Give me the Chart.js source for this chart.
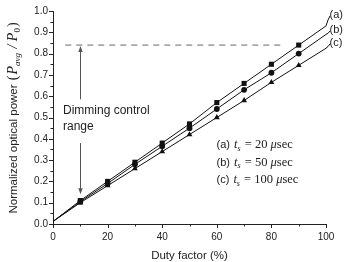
<!DOCTYPE html>
<html>
<head>
<meta charset="utf-8">
<script src="https://cdn.jsdelivr.net/npm/chart.js@4/dist/chart.umd.min.js"></script>
<style>
  html, body { margin: 0; padding: 0; background: #fff; }
  #wrap { width: 345px; height: 262px; }
</style>
</head>
<body>
<div id="wrap"><canvas id="chart" width="345" height="262"></canvas></div>
<script>
// Duty factor (%) positions
const duty = [0, 10, 20, 30, 40, 50, 60, 70, 80, 90, 100];

// Normalized optical power for each switching time
const seriesA = [0.012, 0.11, 0.20, 0.29, 0.38, 0.47, 0.57, 0.66, 0.75, 0.84, 0.93];
const seriesB = [0.012, 0.105, 0.19, 0.28, 0.365, 0.45, 0.54, 0.63, 0.71, 0.80, 0.89];
const seriesC = [0.012, 0.10, 0.18, 0.26, 0.34, 0.42, 0.50, 0.58, 0.665, 0.745, 0.825];

// End labels and legend lines
const seriesNames = ['(a)', '(b)', '(c)'];
const switchTimes = ['20', '50', '100'];

// Dashed reference level and the dimming range arrow position
const dimLevel = 0.84;
const dashedX = [4.5, 85];
const arrowX = 10;

const sansFont = '"Liberation Sans", Arial, sans-serif';
const serifFont = '"Liberation Serif", "Times New Roman", serif';
const textColor = '#222';

// points everywhere except at 0 and 100
function markerRadius(r) {
  return ctx => (ctx.dataIndex === 0 || ctx.dataIndex === duty.length - 1) ? 0 : r;
}

function makeSeries(values, style, r) {
  return {
    data: duty.map((d, i) => ({ x: d, y: values[i] })),
    borderColor: '#111',
    backgroundColor: '#111',
    borderWidth: 1,
    pointStyle: style,
    pointRadius: markerRadius(r),
    pointBorderWidth: 0,
    tension: 0,
    clip: false
  };
}

function drawPieces(ctx, pieces, x, y) {
  let cx = x;
  pieces.forEach(p => {
    ctx.font = p.font;
    ctx.fillText(p.t, cx, y + (p.dy || 0));
    cx += ctx.measureText(p.t).width + (p.gap || 0);
  });
}

function piecesWidth(ctx, pieces) {
  let w = 0;
  pieces.forEach(p => { ctx.font = p.font; w += ctx.measureText(p.t).width + (p.gap || 0); });
  return w;
}

function arrow(ctx, x, y1, y2) {
  // line from y1 to y2, head at y2
  const dir = y2 > y1 ? 1 : -1;
  ctx.beginPath();
  ctx.moveTo(x, y1);
  ctx.lineTo(x, y2 - dir * 5);
  ctx.stroke();
  ctx.beginPath();
  ctx.moveTo(x, y2);
  ctx.lineTo(x - 2.2, y2 - dir * 6);
  ctx.lineTo(x + 2.2, y2 - dir * 6);
  ctx.closePath();
  ctx.fill();
}

const extras = {
  id: 'extras',
  afterDraw(chart) {
    const { ctx } = chart;
    const xs = chart.scales.x, ys = chart.scales.y;
    ctx.save();

    // tick marks, major and minor, outside
    ctx.strokeStyle = '#222';
    ctx.lineWidth = 1;
    for (let v = 0; v <= 100; v += 10) {
      const px = Math.round(xs.getPixelForValue(v)) + 0.5;
      const len = v % 20 === 0 ? 4 : 2.5;
      ctx.beginPath();
      ctx.moveTo(px, ys.bottom);
      ctx.lineTo(px, ys.bottom + len);
      ctx.stroke();
    }
    for (let i = 0; i <= 20; i++) {
      const py = Math.round(ys.getPixelForValue(i * 0.05)) + 0.5;
      const len = i % 2 === 0 ? 4 : 2.5;
      ctx.beginPath();
      ctx.moveTo(xs.left, py);
      ctx.lineTo(xs.left - len, py);
      ctx.stroke();
    }

    // dimming range arrows
    ctx.strokeStyle = '#555';
    ctx.fillStyle = '#555';
    const ax = Math.round(xs.getPixelForValue(arrowX)) + 0.5;
    arrow(ctx, ax, ys.getPixelForValue(0.585), ys.getPixelForValue(dimLevel) + 1);
    arrow(ctx, ax, ys.getPixelForValue(0.38), ys.getPixelForValue(0.14));

    ctx.fillStyle = textColor;
    ctx.textBaseline = 'middle';
    ctx.textAlign = 'left';
    ctx.font = '12px ' + sansFont;
    ctx.fillText('Dimming control', 63, 111);
    ctx.fillText('range', 63, 127);

    // series end labels with short leaders
    const ends = [seriesA, seriesB, seriesC];
    const labelY = [15, 30, 43];
    ctx.font = '11px ' + sansFont;
    ctx.strokeStyle = '#111';
    ends.forEach((vals, k) => {
      const ex = xs.getPixelForValue(100);
      const ey = ys.getPixelForValue(vals[vals.length - 1]);
      ctx.beginPath();
      ctx.moveTo(ex, ey);
      ctx.quadraticCurveTo(ex + 2, labelY[k] + 4, ex + 4, labelY[k] + 1);
      ctx.stroke();
      ctx.fillText(seriesNames[k], ex + 3.5, labelY[k]);
    });

    // legend text
    ctx.textBaseline = 'alphabetic';
    const legY = [148, 165.5, 183];
    seriesNames.forEach((nm, k) => {
      drawPieces(ctx, [
        { t: nm + ' ', font: '11px ' + sansFont, gap: 1 },
        { t: 't', font: 'italic 12.5px ' + serifFont },
        { t: 's', font: 'italic 8px ' + serifFont, dy: 2.5, gap: 1 },
        { t: ' = ' , font: '12.5px ' + serifFont },
        { t: switchTimes[k] + ' ', font: '12.5px ' + serifFont },
        { t: '\u03bc', font: 'italic 12.5px ' + serifFont },
        { t: 'sec', font: '12.5px ' + serifFont }
      ], 216.5, legY[k]);
    });

    // y axis title, rotated
    const yTitle = [
      { t: 'Normalized optical power ', font: '11.5px ' + sansFont, gap: 1 },
      { t: '(', font: '14px ' + serifFont, gap: 1 },
      { t: 'P', font: 'italic 14px ' + serifFont },
      { t: 'avg', font: 'italic 9px ' + serifFont, dy: 3, gap: 1 },
      { t: ' / ', font: 'italic 14px ' + serifFont },
      { t: 'P', font: 'italic 14px ' + serifFont },
      { t: '0', font: '9px ' + serifFont, dy: 3, gap: 1 },
      { t: ')', font: '14px ' + serifFont }
    ];
    const tw = piecesWidth(ctx, yTitle);
    ctx.translate(17, 118);
    ctx.rotate(-Math.PI / 2);
    drawPieces(ctx, yTitle, -tw / 2, 0);

    ctx.restore();
  }
};

new Chart(document.getElementById('chart'), {
  type: 'line',
  data: {
    datasets: [
      makeSeries(seriesA, 'rect', 3.6),
      makeSeries(seriesB, 'circle', 2.9),
      makeSeries(seriesC, 'triangle', 3.4),
      {
        data: dashedX.map(d => ({ x: d, y: dimLevel })),
        borderColor: '#666',
        borderWidth: 1,
        borderDash: [6, 5],
        pointRadius: 0
      }
    ]
  },
  options: {
    responsive: false,
    animation: false,
    events: [],
    layout: { padding: { left: 0, top: 7, right: 19, bottom: 0 } },
    plugins: { legend: { display: false }, tooltip: { enabled: false } },
    scales: {
      x: {
        type: 'linear',
        min: 0,
        max: 100,
        afterFit(scale) { scale.height = 38; },
        grid: { display: false, drawTicks: false, tickLength: 0 },
        border: { display: true, color: '#222', width: 1 },
        ticks: {
          stepSize: 20,
          padding: 7,
          color: textColor,
          font: { family: sansFont, size: 10 },
          maxRotation: 0
        },
        title: {
          display: true,
          text: 'Duty factor (%)',
          color: textColor,
          font: { family: sansFont, size: 11.5, lineHeight: 1 },
          padding: { top: 0, bottom: 0 }
        }
      },
      y: {
        type: 'linear',
        min: 0,
        max: 1,
        afterFit(scale) { scale.width = 53; },
        grid: { display: false, drawTicks: false, tickLength: 0 },
        border: { display: true, color: '#222', width: 1 },
        ticks: {
          stepSize: 0.1,
          padding: 5,
          color: textColor,
          font: { family: sansFont, size: 10 },
          callback: v => v.toFixed(1)
        }
      }
    }
  },
  plugins: [extras]
});
</script>
</body>
</html>
